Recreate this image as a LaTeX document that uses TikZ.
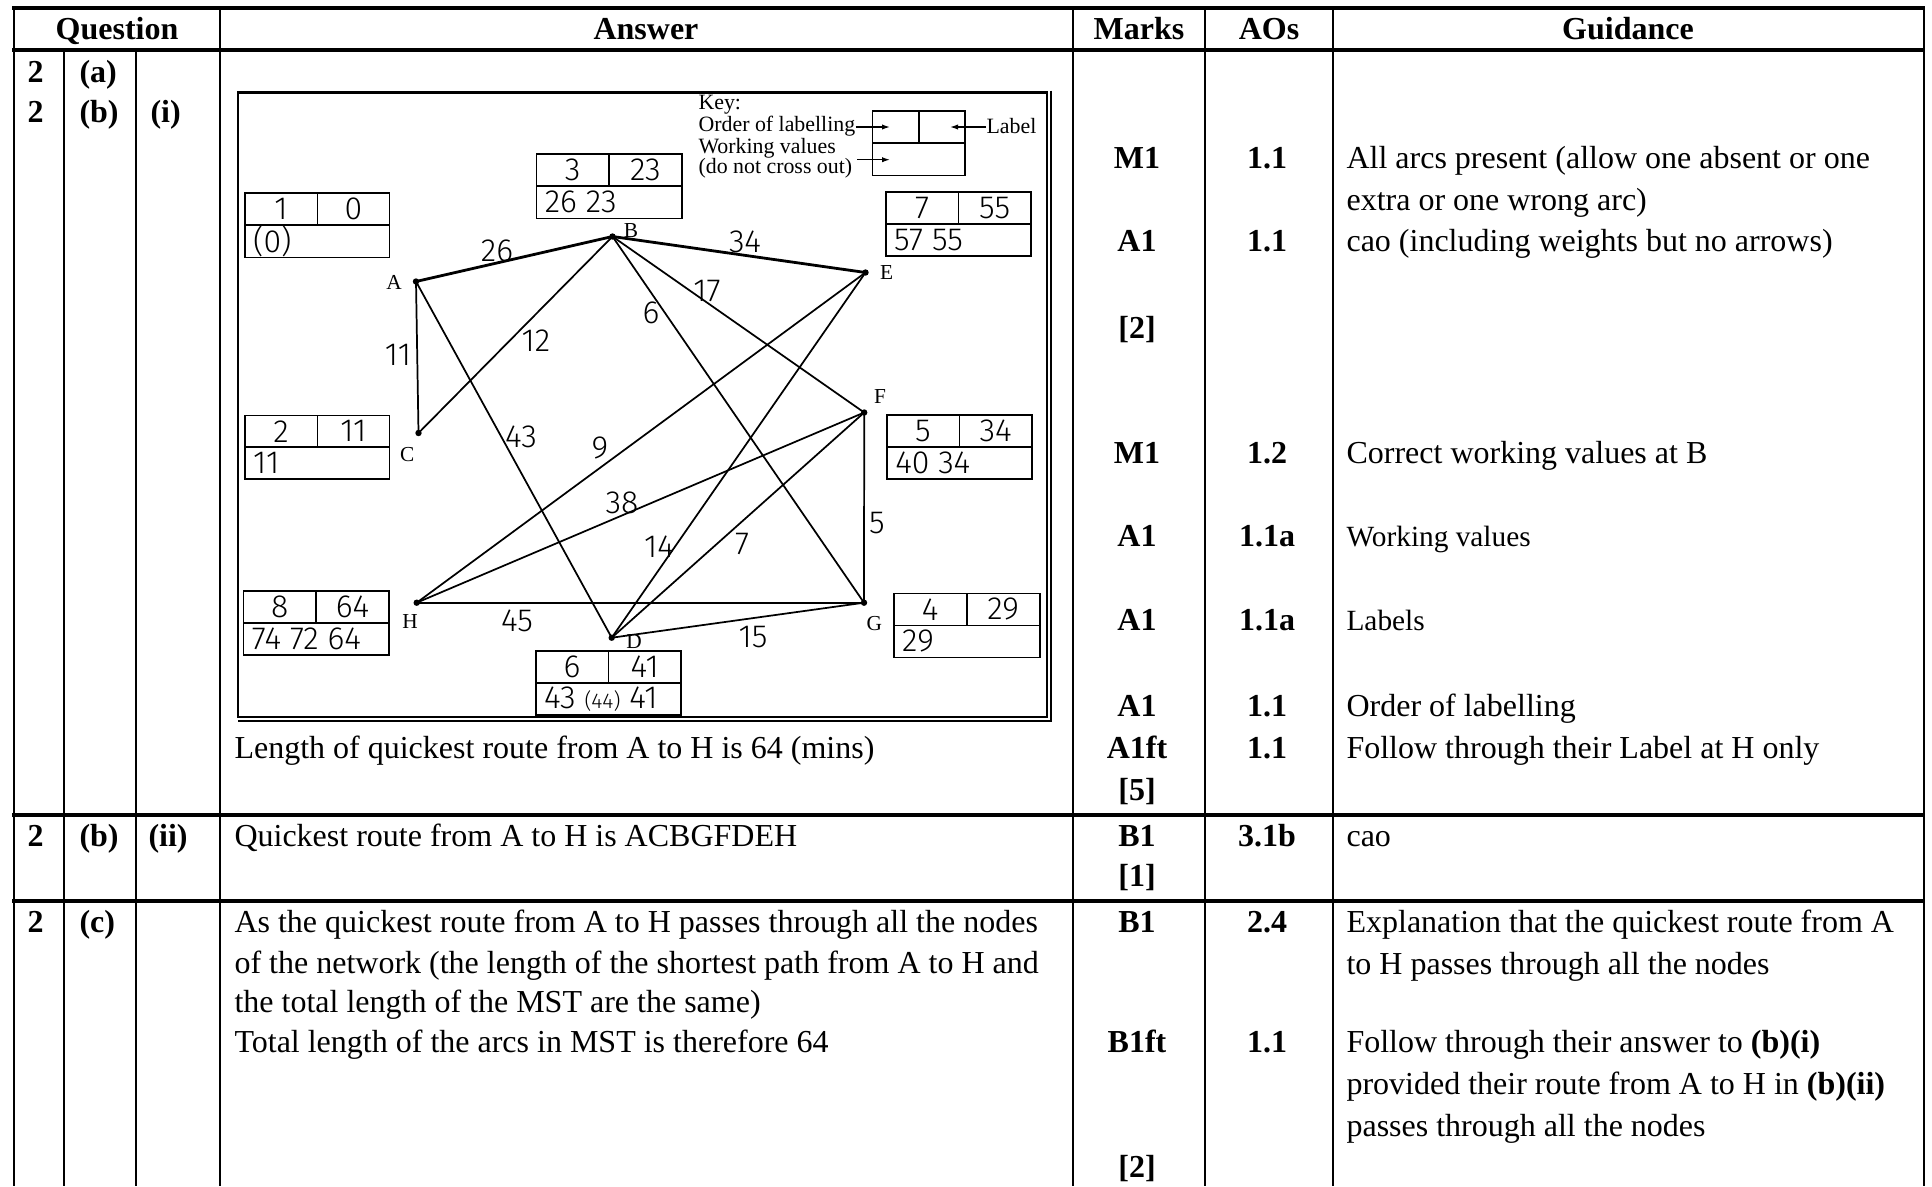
\documentclass[tikz,border=0pt]{standalone}
\usepackage{fontspec}
\setmainfont{Liberation Serif}
\newfontfamily\handfont{Fira Sans Light}
\usetikzlibrary{arrows.meta}

\tikzset{
  hline/.style={line width=1.4pt},
  vline/.style={line width=0.7pt},
  tx/.style={anchor=base west, inner sep=0pt, font=\fontsize{12}{14}\selectfont},
  txs/.style={anchor=base west, inner sep=0pt, font=\fontsize{11}{13}\selectfont},
  bx/.style={anchor=base, inner sep=0pt, font=\fontsize{12}{14}\selectfont\bfseries},
  bxw/.style={anchor=base west, inner sep=0pt, font=\fontsize{12}{14}\selectfont\bfseries},
  hand/.style={inner sep=0pt, font=\handfont\fontsize{12}{14}\selectfont},
  handw/.style={hand, anchor=west},
  vlab/.style={inner sep=0pt, font=\fontsize{8}{9}\selectfont},
  keytx/.style={anchor=west, inner sep=0pt, font=\fontsize{8.2}{9}\selectfont},
  vtx/.style={circle, fill=black, inner sep=0pt, minimum size=2.4pt},
  edge/.style={line width=0.65pt},
  bedge/.style={line width=1.05pt},
  boxline/.style={line width=0.6pt},
  frameline/.style={line width=0.8pt},
  keyarrow/.style={line width=0.5pt, -{Latex[length=3pt,width=2pt]}},
}

\newcommand{\wbox}[9]{%
  \draw[boxline] (#2,#3) rectangle (#4,#5);
  \draw[boxline] (#2,{(#3+#5)/2}) -- (#4,{(#3+#5)/2});
  \draw[boxline] (#6,#3) -- (#6,{(#3+#5)/2});
  \node[hand] (#1-o) at ({(#2+#6)/2},{#3+(#5-#3)/4}) {#7};
  \node[hand] (#1-l) at ({(#6+#4)/2},{#3+(#5-#3)/4}) {#8};
  \node[handw] (#1-w) at ({#2+8},{#3+3*(#5-#3)/4}) {#9};
}

\begin{document}
\begin{tikzpicture}[x=0.375pt,y=-0.375pt]
\useasboundingbox (0,0) rectangle (1932,1186);

% ---------- table ----------
\draw[hline] (12,8) -- (1925,8);
\draw[hline] (12,50) -- (1925,50);
\draw[hline] (12,815) -- (1925,815);
\draw[hline] (12,901) -- (1925,901);
\foreach \xx in {14,220,1073,1205,1333,1924} \draw[vline] (\xx,8) -- (\xx,1186);
\foreach \xx in {64,136} \draw[vline] (\xx,50) -- (\xx,1186);

% header
\node[bx] (hq) at (117,39) {Question};
\node[bx] (ha) at (646,39) {Answer};
\node[bx] (hm) at (1139,39) {Marks};
\node[bx] (hao) at (1269,39) {AOs};
\node[bx] (hg) at (1628,39) {Guidance};

% question numbers
\node[bxw] (q1a) at (27,82.5) {2};
\node[bxw] (q1b) at (79,82.5) {(a)};
\node[bxw] (q2a) at (27,122.5) {2};
\node[bxw] (q2b) at (79,122.5) {(b)};
\node[bxw] (q2c) at (150,122.5) {(i)};
\node[bxw] (q3a) at (27,846.5) {2};
\node[bxw] (q3b) at (79,846.5) {(b)};
\node[bxw] (q3c) at (148,846.5) {(ii)};
\node[bxw] (q4a) at (27,932.5) {2};
\node[bxw] (q4b) at (79,932.5) {(c)};

% marks
\node[bx] (m1) at (1137,168.5) {M1};
\node[bx] (m2) at (1137,251.5) {A1};
\node[bx] (m3) at (1137,338.5) {[2]};
\node[bx] (m4) at (1137,463.5) {M1};
\node[bx] (m5) at (1137,546.5) {A1};
\node[bx] (m6) at (1137,630.5) {A1};
\node[bx] (m7) at (1137,716) {A1};
\node[bx] (m8) at (1137,758.5) {A1ft};
\node[bx] (m9) at (1137,800.5) {[5]};
\node[bx] (m10) at (1137,846.5) {B1};
\node[bx] (m11) at (1137,886.5) {[1]};
\node[bx] (m12) at (1137,932.5) {B1};
\node[bx] (m13) at (1137,1052) {B1ft};
\node[bx] (m14) at (1137,1177) {[2]};

% AOs
\node[bx] (a1) at (1267,168.5) {1.1};
\node[bx] (a2) at (1267,251.5) {1.1};
\node[bx] (a3) at (1267,463.5) {1.2};
\node[bx] (a4) at (1267,546.5) {1.1a};
\node[bx] (a5) at (1267,630.5) {1.1a};
\node[bx] (a6) at (1267,716) {1.1};
\node[bx] (a7) at (1267,758.5) {1.1};
\node[bx] (a8) at (1267,846.5) {3.1b};
\node[bx] (a9) at (1267,932.5) {2.4};
\node[bx] (a10) at (1267,1052) {1.1};

% guidance
\node[tx] (g1) at (1346,168.5) {All arcs present (allow one absent or one};
\node[tx] (g2) at (1346,210) {extra or one wrong arc)};
\node[tx] (g3) at (1346,251.5) {cao (including weights but no arrows)};
\node[tx] (g4) at (1346,463.5) {Correct working values at B};
\node[txs] (g5) at (1346,546.5) {Working values};
\node[txs] (g6) at (1346,630.5) {Labels};
\node[tx] (g7) at (1346,716) {Order of labelling};
\node[tx] (g8) at (1346,758.5) {Follow through their Label at H only};
\node[tx] (g9) at (1346,846.5) {cao};
\node[tx] (g10) at (1346,932.5) {Explanation that the quickest route from A};
\node[tx] (g11) at (1346,974) {to H passes through all the nodes};
\node[tx] (g12) at (1346,1052) {Follow through their answer to \textbf{(b)(i)}};
\node[tx] (g13) at (1346,1094.5) {provided their route from A to H in \textbf{(b)(ii)}};
\node[tx] (g14) at (1346,1136.5) {passes through all the nodes};

% answers
\node[tx] (t1) at (234,758.5) {Length of quickest route from A to H is 64 (mins)};
\node[tx] (t2) at (234,846.5) {Quickest route from A to H is ACBGFDEH};
\node[tx] (t3) at (234,932.5) {As the quickest route from A to H passes through all the nodes};
\node[tx] (t4) at (234,973) {of the network (the length of the shortest path from A to H and};
\node[tx] (t5) at (234,1012) {the total length of the MST are the same)};
\node[tx] (t6) at (234,1052) {Total length of the arcs in MST is therefore 64};

% ---------- graph picture ----------
\draw[frameline] (238,92.5) rectangle (1047,717.3);
\draw[frameline] (1051,90.5) -- (1051,721) -- (238,721);

% key
\node[keytx] (kk) at (698,105) {Key:};
\node[keytx] (ko) at (698,126) {Order of labelling};
\node[keytx] (kw) at (698,148.7) {Working values};
\node[keytx] (kd) at (698,168) {(do not cross out)};
\node[keytx] (kl) at (986,126) {Label};
\draw[boxline] (872.3,110.7) rectangle (965,175.3);
\draw[boxline] (872.3,143) -- (965,143);
\draw[boxline] (919,110.7) -- (919,143);
\coordinate (ka1) at (890,127);
\coordinate (ka2) at (950,127);
\coordinate (ka3s) at (857,159.7);
\coordinate (ka3) at (890,159.7);
\draw[keyarrow] (ko.east |- ka1) -- (ka1);
\draw[keyarrow] (kl.west |- ka2) -- (ka2);
\draw[keyarrow] (ka3s) -- (ka3);

% vertices
\node[vtx] (A) at (416,281.5) {};
\node[vtx] (B) at (612.5,236.5) {};
\node[vtx] (C) at (418.5,433) {};
\node[vtx] (D) at (611.7,637.7) {};
\node[vtx] (E) at (865.5,272.5) {};
\node[vtx] (F) at (864.2,412.5) {};
\node[vtx] (G) at (864,602.7) {};
\node[vtx] (H) at (416.7,602.7) {};

\node[vlab] (lA) at (394,282) {A};
\node[vlab] (lB) at (631,230.7) {B};
\node[vlab] (lC) at (407.3,455) {C};
\node[vlab] (lD) at (634,641.7) {D};
\node[vlab] (lE) at (886.7,273) {E};
\node[vlab] (lF) at (880,396.3) {F};
\node[vlab] (lG) at (874.3,623.3) {G};
\node[vlab] (lH) at (410,621.7) {H};

% arcs
\draw[bedge] (A.center) -- (B.center);
\draw[bedge] (B.center) -- (E.center);
\draw[edge] (A.center) -- (C.center);
\draw[edge] (C.center) -- (B.center);
\draw[edge] (A.center) -- (D.center);
\draw[edge] (B.center) -- (G.center);
\draw[edge] (B.center) -- (F.center);
\draw[edge] (E.center) -- (H.center);
\draw[edge] (E.center) -- (D.center);
\draw[edge] (F.center) -- (H.center);
\draw[edge] (F.center) -- (D.center);
\draw[edge] (F.center) -- (G.center);
\draw[edge] (H.center) -- (G.center);
\draw[edge] (D.center) -- (G.center);

% weights
\node[hand] (w26) at (497,251) {26};
\node[hand] (w34) at (745,242) {34};
\node[hand] (w11) at (398,355) {11};
\node[hand] (w12) at (536,341) {12};
\node[hand] (w6) at (651,313) {6};
\node[hand] (w17) at (707,291) {17};
\node[hand] (w43) at (521,437) {43};
\node[hand] (w9) at (600,448) {9};
\node[hand] (w38) at (622,503) {38};
\node[hand] (w14) at (659,547) {14};
\node[hand] (w7) at (742,544) {7};
\node[hand] (w5) at (877,523) {5};
\node[hand] (w45) at (517,621) {45};
\node[hand] (w15) at (753,637) {15};

% working boxes
\wbox{bA}{244.7}{193}{389.3}{257.3}{317.3}{1}{0}{(0)}
\wbox{bB}{536.3}{154}{681.7}{218.3}{609}{3}{23}{26 23}
\wbox{bE}{885.7}{192}{1031}{255.7}{958.3}{7}{55}{57 55}
\wbox{bC}{244.7}{415.3}{389.3}{479}{317.3}{2}{11}{11}
\wbox{bF}{886.7}{415}{1032}{478.7}{959.3}{5}{34}{40 34}
\wbox{bH}{243.3}{591}{389}{655}{316}{8}{64}{74 72 64}
\wbox{bG}{893.7}{593.3}{1039.7}{657.3}{966.7}{4}{29}{29}
\wbox{bD}{535.7}{650.7}{681}{715}{608.3}{6}{41}{43 {\fontsize{8}{9}\selectfont(44)} 41}

\end{tikzpicture}
\end{document}
